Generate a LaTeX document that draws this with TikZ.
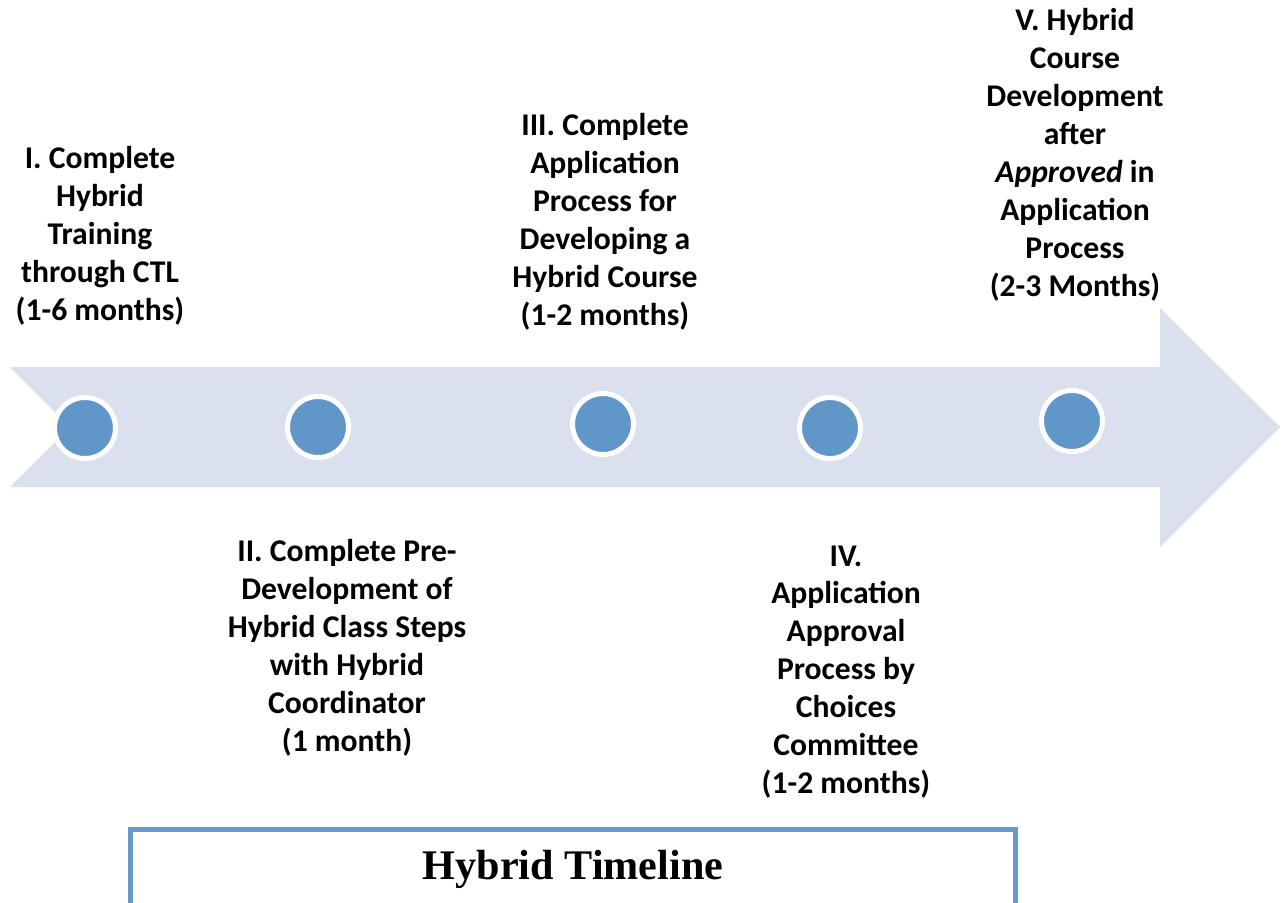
\documentclass[tikz,border=0pt]{standalone}
\usepackage{fontspec}
\setmainfont{Carlito}
\newfontfamily\titlefont{Liberation Serif}
\usepackage{xcolor}
\usepackage{tikz}
\definecolor{arrowfill}{RGB}{219,224,238}
\definecolor{dotblue}{RGB}{96,150,200}
\definecolor{boxblue}{RGB}{102,153,204}
\tikzset{
    stage/.style={circle, fill=dotblue, draw=white, line width=0.1cm, minimum size=1.22cm, inner sep=0pt},
    steptext/.style={align=center, font=\bfseries\fontsize{18}{21.6}\selectfont, inner sep=0pt},
    titlebox/.style={rectangle, draw=boxblue, line width=0.1cm, fill=white, minimum width=17.72cm, minimum height=1.6cm, font=\titlefont\bfseries\fontsize{24}{28}\selectfont}
}

\begin{document}
\begin{tikzpicture}[x=0.02cm, y=-0.02cm]
            \clip (0,0) rectangle (1287,902);
            % timeline arrow
            \fill[arrowfill] (10,367) -- (1160,367) -- (1160,308) -- (1280,427) -- (1160,547)
                -- (1160,487) -- (10,487) -- (70,427) -- cycle;

            \node (s1) [stage] at (85,428) {};
            \node (s2) [stage] at (318,427) {};
            \node (s3) [stage] at (603,424) {};
            \node (s4) [stage] at (830,428) {};
            \node (s5) [stage] at (1072,421) {};

            \node (t1) [steptext] at (100,236) {I. Complete\\Hybrid\\Training\\through CTL\\(1-6 months)};
            \node (t2) [steptext] at (347,648) {II. Complete Pre-\\Development of\\Hybrid Class Steps\\with Hybrid\\Coordinator\\(1 month)};
            \node (t3) [steptext] at (605,222) {III. Complete\\Application\\Process for\\Developing a\\Hybrid Course\\(1-2 months)};
            \node (t4) [steptext] at (846,672) {IV.\\Application\\Approval\\Process by\\Choices\\Committee\\(1-2 months)};
            \node (t5) [steptext] at (1075,155) {V. Hybrid\\Course\\Development\\after\\\textit{Approved} in\\Application\\Process\\(2-3 Months)};

            \node (title) [titlebox] at (573,869) {Hybrid Timeline};
        \end{tikzpicture}
\end{document}
